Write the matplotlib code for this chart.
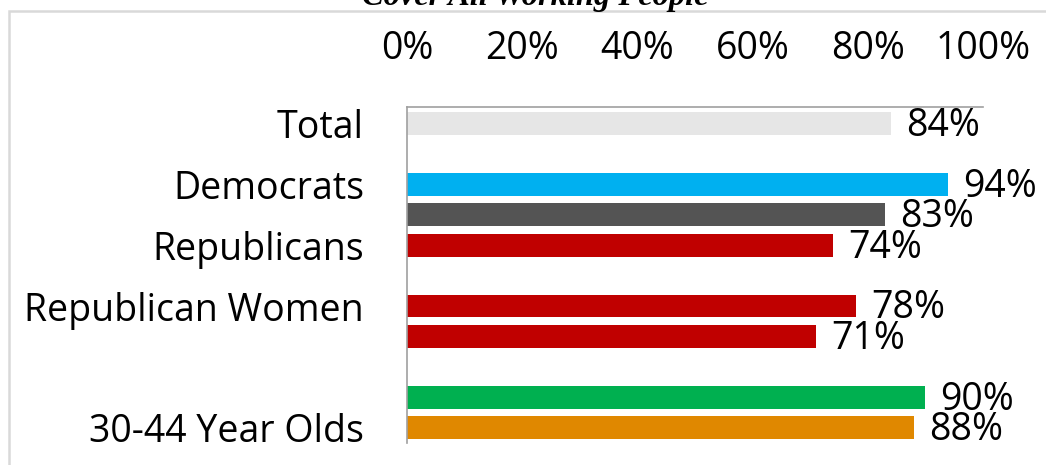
import numpy as np
import matplotlib.pyplot as plt
from matplotlib.patches import Rectangle

plt.rcParams['font.family'] = ['Open Sans', 'DejaVu Sans']

# chart data, one list per group of bars
group_labels = [["Total"],
                ["Democrats", "", "Republicans"],
                ["Republican Women", ""],
                ["", "30-44 Year Olds"]]
group_values = [[84],
                [94, 83, 74],
                [78, 71],
                [90, 88]]
group_colors = [["#E6E6E6"],
                ["#00B0F0", "#545454", "#C00000"],
                ["#C00000", "#C00000"],
                ["#00B050", "#E08800"]]
x_ticks = [0, 20, 40, 60, 80, 100]
title = "Cover All Working People"

# slot positions: one empty slot between groups
pos, labels, vals, cols = [], [], [], []
slot = 0
for lab, val, col in zip(group_labels, group_values, group_colors):
    for l, v, c in zip(lab, val, col):
        pos.append(slot)
        labels.append(l)
        vals.append(v)
        cols.append(c)
        slot += 1
    slot += 1

FS = 27

fig = plt.figure(figsize=(10.46, 4.65), dpi=100)
ax = fig.add_axes([407/1046, 1-443/465, (983-407)/1046, (443-107)/465])

ax.barh(pos, vals, height=0.75, color=cols)
for p, v in zip(pos, vals):
    ax.text(v + 2.6, p + 0.08, f"{v}%", va='center', ha='left', fontsize=FS, color='black')

ax.set_xlim(0, 100)
ax.set_ylim(pos[-1] + 0.5, -0.54)
ax.xaxis.tick_top()
ax.set_xticks(x_ticks)
ax.set_xticklabels([f"{t}%" for t in x_ticks], fontsize=FS)
ax.set_yticks(pos)
ax.set_yticklabels(labels, fontsize=FS)
ax.tick_params(axis='x', length=0, pad=28)
ax.tick_params(axis='y', length=0, pad=31)
for s in ['right', 'bottom']:
    ax.spines[s].set_visible(False)
for s in ['top', 'left']:
    ax.spines[s].set_color('#A0A0A0')
    ax.spines[s].set_linewidth(1.2)

# outer frame (runs off the right and bottom edge)
fig.patches.append(Rectangle((9/1046, -0.1), 1.2, 1 - 11/465 + 0.1,
                             transform=fig.transFigure, fill=False,
                             edgecolor='#D9D9D9', linewidth=1.8))

fig.text(535/1046, 1 - 5/465, title, ha='center', va='baseline',
         fontsize=23.4, fontweight='bold', fontstyle='italic',
         family=['Liberation Serif'])

fig.savefig("out.png", dpi=100)
